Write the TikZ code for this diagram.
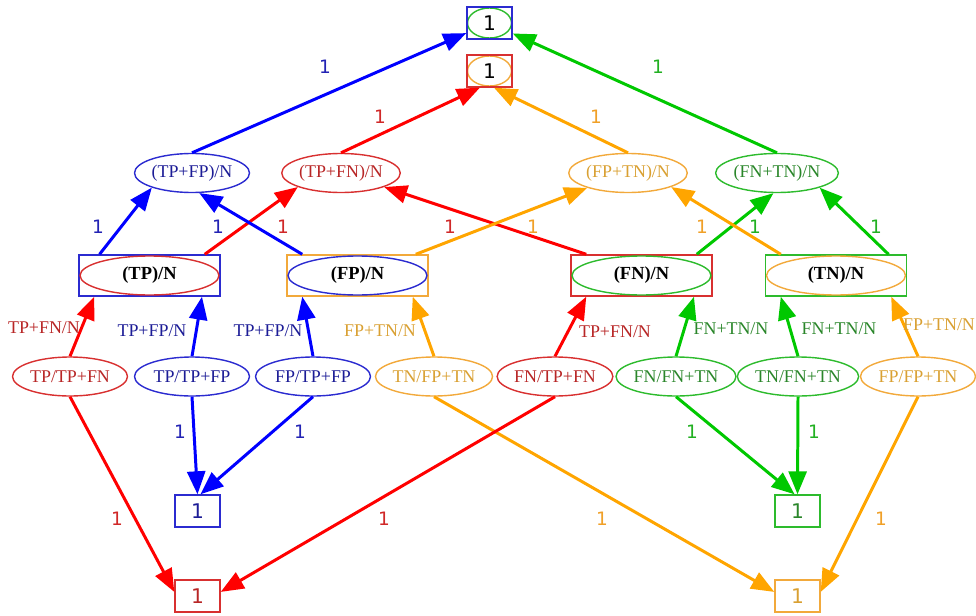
\documentclass[tikz,border=0pt]{standalone}
\usepackage{fontspec}
\setmainfont{Liberation Serif}
\newfontfamily\onefont{DejaVu Sans}
\usetikzlibrary{arrows.meta,shapes.geometric}
\definecolor{eblue}{HTML}{0000FF}
\definecolor{ered}{HTML}{FF0000}
\definecolor{egreen}{HTML}{00C800}
\definecolor{eorange}{HTML}{FFA500}
\definecolor{oblue}{HTML}{2B2BD0}
\definecolor{ored}{HTML}{D83030}
\definecolor{ogreen}{HTML}{2DBB2D}
\definecolor{oorange}{HTML}{F2A93B}
\definecolor{tblue}{HTML}{1C1C96}
\definecolor{tred}{HTML}{B82626}
\definecolor{tgreen}{HTML}{2A862A}
\definecolor{torange}{HTML}{D9A032}
\definecolor{wblue}{HTML}{2323B4}
\definecolor{wred}{HTML}{D02828}
\definecolor{wgreen}{HTML}{22B022}
\definecolor{worange}{HTML}{F0A028}

\begin{document}
\begin{tikzpicture}[x=0.02cm, y=-0.02cm,
  >={Triangle[length=0.46cm, width=0.36cm]},
  rate/.style={ellipse, draw, line width=0.8pt, inner sep=0pt, minimum width=2.3cm, minimum height=0.78cm, font=\fontsize{10.2}{12}\selectfont},
  share/.style={rectangle, draw, line width=0.8pt, inner sep=0pt, minimum width=2.82cm, minimum height=0.82cm, font=\bfseries\fontsize{10.5}{12}\selectfont},
  ring/.style={ellipse, draw, line width=0.8pt, inner sep=0pt, minimum width=2.78cm, minimum height=0.78cm},
  unit/.style={rectangle, draw, line width=0.8pt, inner sep=0pt, minimum width=0.9cm, minimum height=0.64cm, font=\onefont\fontsize{11.5}{13}\selectfont},
  unitring/.style={ellipse, draw, line width=0.8pt, inner sep=0pt, minimum width=0.88cm, minimum height=0.6cm},
  flow/.style={->, line width=1.7pt},
  wt/.style={font=\onefont\fontsize{10.5}{12}\selectfont},
  frac/.style={font=\fontsize{10.2}{12}\selectfont}]
  \useasboundingbox (0,0) rectangle (976,615);

  \node[unitring, draw=ogreen] (top1r) at (489.5,23) {};
  \node[unit, draw=oblue] (top1) at (489.5,23) {1};
  \node[unitring, draw=oorange] (top2r) at (489.5,71) {};
  \node[unit, draw=ored] (top2) at (489.5,71) {1};

  \node[rate, draw=oblue, text=tblue] (tpfp) at (192,173) {(TP+FP)/N};
  \node[rate, draw=ored, text=tred] (tpfn) at (341,173) {(TP+FN)/N};
  \node[rate, draw=oorange, text=torange] (fptn) at (628,173) {(FP+TN)/N};
  \node[rate, draw=ogreen, text=tgreen] (fntn) at (777,173) {(FN+TN)/N};

  \node[share, draw=oblue] (tp) at (149.5,275.5) {(TP)/N};
  \node[ring, draw=ored] (tpr) at (tp.center) {};
  \node[share, draw=oorange] (fp) at (357.5,275.5) {(FP)/N};
  \node[ring, draw=oblue] (fpr) at (fp.center) {};
  \node[share, draw=ored] (fn) at (641.5,275.5) {(FN)/N};
  \node[ring, draw=ogreen] (fnr) at (fn.center) {};
  \node[share, draw=ogreen] (tn) at (836,275.5) {(TN)/N};
  \node[ring, draw=oorange] (tnr) at (tn.center) {};

  \node[rate, draw=ored, text=tred] (tptpfn) at (70,376.5) {TP/TP+FN};
  \node[rate, draw=oblue, text=tblue] (tptpfp) at (192,376.5) {TP/TP+FP};
  \node[rate, draw=oblue, text=tblue] (fptpfp) at (313,376.5) {FP/TP+FP};
  \node[rate, draw=oorange, text=torange] (tnfptn) at (434,376.5) {TN/FP+TN};
  \node[rate, draw=ored, text=tred] (fntpfn) at (555,376.5) {FN/TP+FN};
  \node[rate, draw=ogreen, text=tgreen] (fnfntn) at (676,376.5) {FN/FN+TN};
  \node[rate, draw=ogreen, text=tgreen] (tnfntn) at (798,376.5) {TN/FN+TN};
  \node[rate, draw=oorange, text=torange] (fpfptn) at (918,376.5) {FP/FP+TN};

  \node[unit, draw=oblue, text=tblue] (bbox) at (197.5,511) {1};
  \node[unit, draw=ogreen, text=tgreen] (gbox) at (797.5,511) {1};
  \node[unit, draw=ored, text=tred] (rbox) at (197.5,596) {1};
  \node[unit, draw=oorange, text=torange] (obox) at (797.5,596) {1};

  \foreach \a/\b/\c in {tpfp.north/top1/eblue, fntn.north/top1/egreen,
      tpfn.north/top2.-120/ered, fptn.north/top2.-75/eorange,
      tp.157/tpfp.200/eblue, tp.21/tpfn.198/ered, fp.159/tpfp.-70/eblue,
      fn.159/tpfn.-18/ered, fp.20/fptn.200/eorange, fn.21/fntn.-100/egreen,
      tn.159/fptn.-18/eorange, tn.22/fntn.-19/egreen,
      tptpfn.north/tp.201/ered, tptpfp.north/tp.-22/eblue,
      fptpfp.north/fp.201/eblue, tnfptn.north/fp.-21/eorange,
      fntpfn.north/fn.201/ered, fnfntn.north/fn.-22/egreen,
      tnfntn.north/tn.201/egreen, fpfptn.north/tn.-21/eorange,
      tptpfn.south/rbox.170/ered, tptpfp.south/bbox.north/eblue,
      fptpfp.south/bbox.80/eblue, tnfptn.south/obox.170/eorange,
      fntpfn.south/rbox.10/ered, fnfntn.south/gbox.100/egreen,
      tnfntn.south/gbox.north/egreen, fpfptn.south/obox.10/eorange}
    \draw[flow, color=\c] (\a) -- (\b);

  \foreach \x/\y/\c [count=\i] in {325/67/wblue, 658/67/wgreen, 380/117/wred, 596/117/worange,
      98/227/wblue, 218/227/wblue, 283/227/wred, 450/227/wred, 533/227/worange,
      702/227/worange, 755/227/wgreen, 876/227/wgreen,
      180/432/wblue, 300/432/wblue, 692/432/wgreen, 814/432/wgreen,
      117/519/wred, 384/519/wred, 602/519/worange, 881/519/worange}
    \node[wt, text=\c] (w\i) at (\x,\y) {1};

  \node[frac, text=tred] (r1) at (44,328) {TP+FN/N};
  \node[frac, text=tblue] (r2) at (152,331) {TP+FP/N};
  \node[frac, text=tblue] (r3) at (268,331) {TP+FP/N};
  \node[frac, text=torange] (r4) at (380,331) {FP+TN/N};
  \node[frac, text=tred] (r5) at (615,332) {TP+FN/N};
  \node[frac, text=tgreen] (r6) at (731,329) {FN+TN/N};
  \node[frac, text=tgreen] (r7) at (839,329) {FN+TN/N};
  \node[frac, text=torange] (r8) at (939,325) {FP+TN/N};
\end{tikzpicture}
\end{document}
